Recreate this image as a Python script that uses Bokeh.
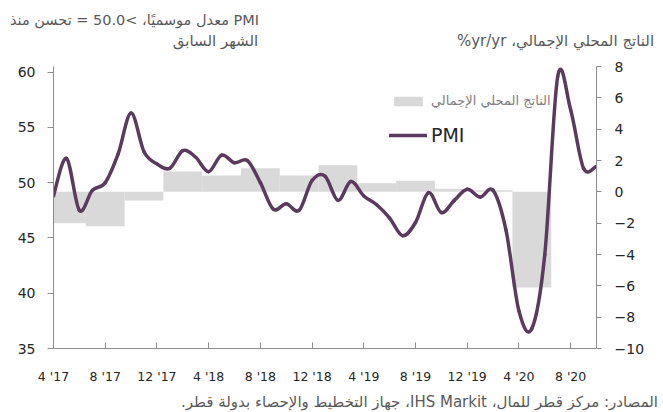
from bokeh.plotting import figure
from bokeh.models import (Range1d, LinearAxis, FixedTicker, Legend, LegendItem,
                          ColumnDataSource)
from bokeh.embed import file_html
from bokeh.resources import INLINE

# ---------------- data ----------------
months = [
    "2017-04", "2017-05", "2017-06", "2017-07", "2017-08", "2017-09",
    "2017-10", "2017-11", "2017-12",
    "2018-01", "2018-02", "2018-03", "2018-04", "2018-05", "2018-06",
    "2018-07", "2018-08", "2018-09", "2018-10", "2018-11", "2018-12",
    "2019-01", "2019-02", "2019-03", "2019-04", "2019-05", "2019-06",
    "2019-07", "2019-08", "2019-09", "2019-10", "2019-11", "2019-12",
    "2020-01", "2020-02", "2020-03", "2020-04", "2020-05", "2020-06",
    "2020-07", "2020-08", "2020-09", "2020-10",
]

pmi = [
    48.8, 52.2, 47.5, 49.3, 50.0, 52.6, 56.3, 52.8, 51.7,
    51.3, 52.9, 52.3, 51.0, 52.5, 51.8, 52.0, 50.0, 47.6, 48.1, 47.5, 50.2,
    50.6, 48.4, 50.1, 48.8, 48.0, 46.8, 45.2, 46.4, 49.1, 47.3, 48.4, 49.4,
    48.7, 49.3, 45.7, 38.4, 36.8, 43.5, 59.6, 56.6, 51.3, 51.5,
]

gdp_quarters = [
    "2017Q2", "2017Q3", "2017Q4",
    "2018Q1", "2018Q2", "2018Q3", "2018Q4",
    "2019Q1", "2019Q2", "2019Q3", "2019Q4",
    "2020Q1", "2020Q2",
]
gdp_yoy = [-2.0, -2.2, -0.55, 1.3, 1.05, 1.5, 1.05, 1.7, 0.55, 0.7, 0.2, 0.1, -6.1]

tick_months = ["2017-04", "2017-08", "2017-12", "2018-04", "2018-08", "2018-12",
               "2019-04", "2019-08", "2019-12", "2020-04", "2020-08"]
tick_labels = ["4 '17", "8 '17", "12 '17", "4 '18", "8 '18", "12 '18",
               "4 '19", "8 '19", "12 '19", "4 '20", "8 '20"]

pmi_ticks = [35, 40, 45, 50, 55, 60]
gdp_ticks = [-10, -8, -6, -4, -2, 0, 2, 4, 6, 8]

RLE, PDF = "\u202b", "\u202c"   # right-to-left embedding for Arabic lines
title_left_1 = RLE + "PMI معدل موسميًا، >50.0 = تحسن منذ" + PDF
title_left_2 = "الشهر السابق"
title_right = RLE + "الناتج المحلي الإجمالي، yr/yr%" + PDF
legend_gdp = "الناتج المحلي الإجمالي"
legend_pmi = "PMI"
source_text = RLE + "المصادر: مركز قطر للمال، IHS Markit، جهاز التخطيط والإحصاء بدولة قطر." + PDF

# ---------------- derived positions ----------------
mi = {m: i for i, m in enumerate(months)}
xs = [mi[m] for m in months]
q_x = [mi["%s-%02d" % (q[:4], 3 * int(q[-1]) - 1)] for q in gdp_quarters]
tick_x = [mi[m] for m in tick_months]

FONT = "DejaVu Sans"
PURPLE = "#5b3b5d"
AXIS = "#8c8c8c"
TXT = "#262626"
GREY_TXT = "#595959"

FL, FR = 53, 596          # frame left / right in page pixels

p = figure(frame_width=FR - FL, frame_height=282,
           min_border_left=FL, min_border_right=663 - FR,
           min_border_top=66, min_border_bottom=62,
           x_range=Range1d(xs[0], xs[-1]), y_range=Range1d(35, 60.51),
           output_backend="svg", toolbar_location=None)
p.xgrid.visible = False
p.ygrid.visible = False
p.outline_line_color = None
p.background_fill_color = "white"
p.border_fill_color = "white"

p.extra_y_ranges = {"gdp": Range1d(-10, 8)}
p.extra_x_ranges = {"px": Range1d(FL, FR)}   # page-pixel scale for text rows

bars = p.vbar(x=q_x, width=3, top=gdp_yoy, bottom=0, y_range_name="gdp",
              fill_color="#d9d9d9", line_color=None)

# smoothed PMI line: Bezier segments through every monthly value
n = len(pmi)
seg = dict(x0=[], y0=[], x1=[], y1=[], cx0=[], cy0=[], cx1=[], cy1=[])
for i in range(n - 1):
    a = max(i - 1, 0)
    b = min(i + 2, n - 1)
    seg["x0"].append(xs[i]); seg["y0"].append(pmi[i])
    seg["x1"].append(xs[i + 1]); seg["y1"].append(pmi[i + 1])
    seg["cx0"].append(xs[i] + (xs[i + 1] - xs[a]) / 6.0)
    seg["cy0"].append(pmi[i] + (pmi[i + 1] - pmi[a]) / 6.0)
    seg["cx1"].append(xs[i + 1] - (xs[b] - xs[i]) / 6.0)
    seg["cy1"].append(pmi[i + 1] - (pmi[b] - pmi[i]) / 6.0)
line = p.bezier(x0="x0", y0="y0", x1="x1", y1="y1", cx0="cx0", cy0="cy0",
                cx1="cx1", cy1="cy1", source=ColumnDataSource(seg),
                line_color=PURPLE, line_width=3.5, line_cap="round")

xa = p.xaxis[0]
xa.ticker = FixedTicker(ticks=tick_x)
xa.major_label_overrides = {t: l for t, l in zip(tick_x, tick_labels)}
xa.minor_tick_line_color = None
xa.major_tick_in = 6
xa.major_tick_out = 0
xa.major_label_standoff = 20
xa.major_label_text_font_size = "12.5px"

ya = p.yaxis[0]
ya.ticker = FixedTicker(ticks=pmi_ticks)
ya.minor_tick_line_color = None
ya.major_tick_in = 0
ya.major_tick_out = 6
ya.major_label_standoff = 12
ya.major_label_text_font_size = "14px"

ra = LinearAxis(y_range_name="gdp", ticker=FixedTicker(ticks=gdp_ticks))
ra.minor_tick_line_color = None
ra.major_tick_in = 0
ra.major_tick_out = 5
ra.major_label_standoff = 13
ra.major_label_text_font_size = "14px"
p.add_layout(ra, "right")

for ax in (xa, ya, ra):
    ax.axis_line_color = AXIS
    ax.major_tick_line_color = AXIS
    ax.major_label_text_font = FONT
    ax.major_label_text_color = TXT


# text rows (header lines and source) as label-only axes on a pixel scale
def text_row(centers, texts, side, standoff, size="15px"):
    ax = LinearAxis(x_range_name="px", ticker=FixedTicker(ticks=centers))
    ax.major_label_overrides = {c: t for c, t in zip(centers, texts)}
    ax.axis_line_color = None
    ax.major_tick_line_color = None
    ax.minor_tick_line_color = None
    ax.major_tick_in = 0
    ax.major_tick_out = 0
    ax.major_label_standoff = standoff
    ax.major_label_text_font = FONT
    ax.major_label_text_font_size = size
    ax.major_label_text_color = GREY_TXT
    p.add_layout(ax, side)


text_row([215, 555], [title_left_2, title_right], "above", 17)      # second header line
text_row([134], [title_left_1], "above", 1, size="14.5px")           # first header line
text_row([419], [source_text], "below", 6)                           # source line

leg1 = Legend(items=[LegendItem(label=legend_gdp, renderers=[bars])],
              location=(337, 240), glyph_width=36, glyph_height=12,
              label_height=12, label_standoff=5, padding=0, margin=0,
              spacing=0, border_line_color=None, background_fill_alpha=0,
              label_text_font=FONT, label_text_font_size="13px",
              label_text_color="#808080")
leg2 = Legend(items=[LegendItem(label=legend_pmi, renderers=[line])],
              location=(336, 202), glyph_width=38, glyph_height=20,
              label_height=20, label_standoff=4, padding=0, margin=0,
              spacing=0, border_line_color=None, background_fill_alpha=0,
              label_text_font=FONT, label_text_font_size="19px",
              label_text_color=TXT)
p.add_layout(leg1, "center")
p.add_layout(leg2, "center")

open("out.html", "w").write(file_html(p, INLINE))
